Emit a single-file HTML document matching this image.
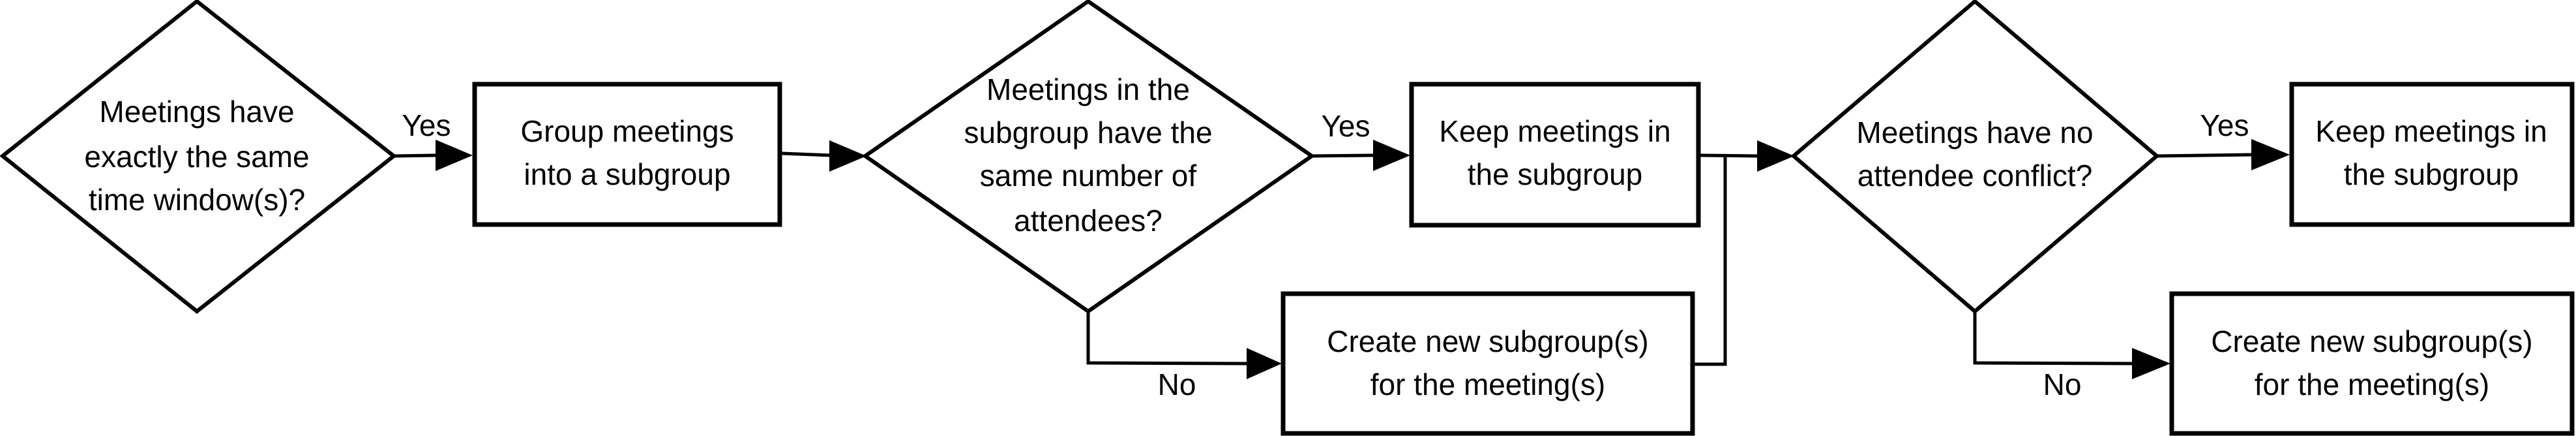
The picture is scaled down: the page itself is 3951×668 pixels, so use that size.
<!DOCTYPE html>
<html><head><meta charset="utf-8"><style>
html,body{margin:0;padding:0;background:#fff;}
svg{display:block;}
text{font-family:"Liberation Sans",sans-serif;font-size:46px;fill:#000;text-anchor:middle;}
</style></head><body>
<svg width="3951" height="668" viewBox="0 0 3951 668" xmlns="http://www.w3.org/2000/svg">
<g fill="none" stroke="#000" stroke-width="6" stroke-linejoin="miter">
<polygon points="4,239 302,2 604,239 302,477" fill="#fff"/>
<polygon points="1327,239 1669,2 2012,239 1669,477" fill="#fff"/>
<polygon points="2751,239 3029,2 3308,239 3029,477" fill="#fff"/>
</g>
<g fill="#fff" stroke="#000" stroke-width="7">
<rect x="728" y="129" width="468" height="215"/>
<rect x="2165" y="129" width="440" height="216"/>
<rect x="1968" y="450" width="628" height="214"/>
<rect x="3515" y="129" width="430" height="215"/>
<rect x="3331" y="450" width="614" height="214"/>
</g>
<g fill="none" stroke="#000" stroke-width="5">
<line x1="604" y1="239" x2="670" y2="238"/>
<line x1="1199" y1="235" x2="1274" y2="238"/>
<line x1="2012" y1="239" x2="2108" y2="238"/>
<polyline points="1669,477 1669,556 1914,557"/>
<line x1="2608" y1="238" x2="2697" y2="239"/>
<polyline points="2599,558 2646,558 2646,239"/>
<line x1="3308" y1="239" x2="3455" y2="237"/>
<polyline points="3029,477 3029,556 3272,557"/>
</g>
<g fill="#000">
<polygon points="668,214 725,238 668,262"/>
<polygon points="1272,215 1329,239 1272,263"/>
<polygon points="2106,214 2163,238 2106,262"/>
<polygon points="1912,533 1966,557 1912,581"/>
<polygon points="2695,215 2752,239 2695,263"/>
<polygon points="3453,213 3512,237 3453,261"/>
<polygon points="3270,533 3329,557 3270,581"/>
</g>
<text x="302" y="187">Meetings have</text>
<text x="302" y="256">exactly the same</text>
<text x="302" y="322">time window(s)?</text>
<text x="654" y="208">Yes</text>
<text x="962" y="217">Group meetings</text>
<text x="962" y="283">into a subgroup</text>
<text x="1669" y="153">Meetings in the</text>
<text x="1669" y="219">subgroup have the</text>
<text x="1669" y="285">same number of</text>
<text x="1669" y="354">attendees?</text>
<text x="2064" y="209">Yes</text>
<text x="2385" y="217">Keep meetings in</text>
<text x="2385" y="283">the subgroup</text>
<text x="1805" y="605">No</text>
<text x="2282" y="539">Create new subgroup(s)</text>
<text x="2282" y="605">for the meeting(s)</text>
<text x="3029" y="219">Meetings have no</text>
<text x="3029" y="285">attendee conflict?</text>
<text x="3412" y="208">Yes</text>
<text x="3729" y="217">Keep meetings in</text>
<text x="3729" y="283">the subgroup</text>
<text x="3163" y="605">No</text>
<text x="3638" y="539">Create new subgroup(s)</text>
<text x="3638" y="605">for the meeting(s)</text>
</svg>
</body></html>
